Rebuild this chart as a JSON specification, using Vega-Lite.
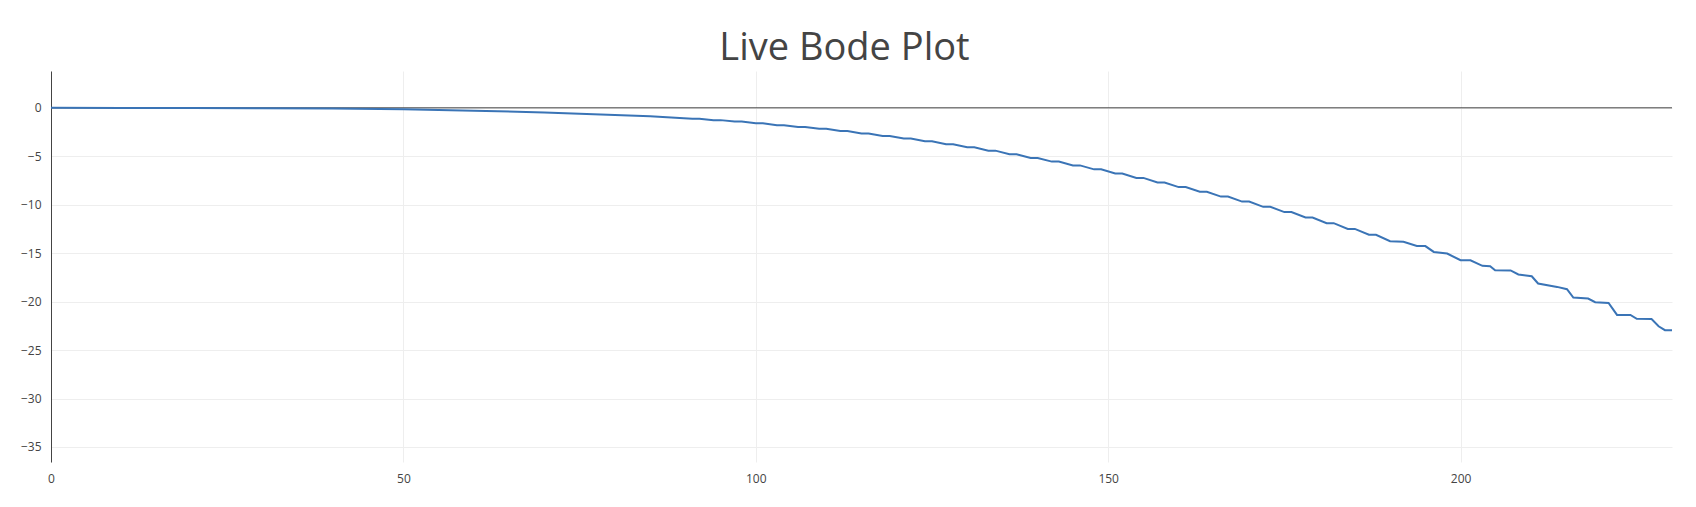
{
  "$schema": "https://vega.github.io/schema/vega-lite/v6.json",
  "width": 1621,
  "height": 391,
  "autosize": {"type": "none"},
  "padding": {"left": 51, "top": 71, "right": 24, "bottom": 45},
  "background": "white",
  "title": {"text": "Live Bode Plot", "anchor": "middle", "frame": "group", "dx": -17, "fontSize": 38, "font": "Open Sans", "fontWeight": "normal", "color": "#444444", "baseline": "alphabetic", "offset": -27},
  "config": {
    "view": {"stroke": null},
    "axis": {"labelFont": "Open Sans", "labelFontSize": 12, "labelColor": "#444444", "gridColor": "#eeeeee", "gridWidth": 1, "ticks": true, "tickSize": 0, "labelFlush": false}
  },
  "layer": [
    {
      "data": {"values": [{"z": 0}]},
      "mark": {"type": "rule", "color": "#444444", "strokeWidth": 1},
      "encoding": {"y": {"field": "z", "type": "quantitative", "scale": {"domain": [-36.55, 3.8], "nice": false}}}
    },
    {
      "data": {"values": [
        {"f": 0, "db": 0}, {"f": 10, "db": -0.01}, {"f": 20, "db": -0.02}, {"f": 30, "db": -0.04}, {"f": 40, "db": -0.08},
        {"f": 50, "db": -0.15}, {"f": 60, "db": -0.29}, {"f": 70, "db": -0.48}, {"f": 75, "db": -0.6}, {"f": 80, "db": -0.74},
        {"f": 85, "db": -0.88}, {"f": 88, "db": -1.0},
        {"f": 91, "db": -1.14}, {"f": 92, "db": -1.14}, {"f": 94, "db": -1.27}, {"f": 95, "db": -1.27},
        {"f": 97, "db": -1.42}, {"f": 98, "db": -1.42}, {"f": 100, "db": -1.59}, {"f": 101, "db": -1.59},
        {"f": 103, "db": -1.8}, {"f": 104, "db": -1.8}, {"f": 106, "db": -1.99}, {"f": 107, "db": -1.99},
        {"f": 109, "db": -2.17}, {"f": 110, "db": -2.17}, {"f": 112, "db": -2.4}, {"f": 113, "db": -2.4},
        {"f": 115, "db": -2.64}, {"f": 116, "db": -2.64}, {"f": 118, "db": -2.9}, {"f": 119, "db": -2.9},
        {"f": 121, "db": -3.17}, {"f": 122, "db": -3.17}, {"f": 124, "db": -3.45}, {"f": 125, "db": -3.45},
        {"f": 127, "db": -3.75}, {"f": 128, "db": -3.75}, {"f": 130, "db": -4.06}, {"f": 131, "db": -4.06},
        {"f": 133, "db": -4.42}, {"f": 134, "db": -4.42}, {"f": 136, "db": -4.79}, {"f": 137, "db": -4.79},
        {"f": 139, "db": -5.17}, {"f": 140, "db": -5.17}, {"f": 142, "db": -5.55}, {"f": 143, "db": -5.55},
        {"f": 145, "db": -5.94}, {"f": 146, "db": -5.94}, {"f": 148, "db": -6.35}, {"f": 149, "db": -6.35},
        {"f": 151, "db": -6.78}, {"f": 152, "db": -6.78}, {"f": 154, "db": -7.23}, {"f": 155, "db": -7.23},
        {"f": 157, "db": -7.7}, {"f": 158, "db": -7.7}, {"f": 160, "db": -8.18}, {"f": 161, "db": -8.18},
        {"f": 163, "db": -8.66}, {"f": 164, "db": -8.66}, {"f": 166, "db": -9.16}, {"f": 167, "db": -9.16},
        {"f": 169, "db": -9.68}, {"f": 170, "db": -9.68}, {"f": 172, "db": -10.22}, {"f": 173, "db": -10.22},
        {"f": 175, "db": -10.76}, {"f": 176, "db": -10.76}, {"f": 178, "db": -11.32}, {"f": 179, "db": -11.32},
        {"f": 181, "db": -11.9}, {"f": 182, "db": -11.9}, {"f": 184, "db": -12.5}, {"f": 185, "db": -12.5},
        {"f": 187, "db": -13.1}, {"f": 188, "db": -13.1},
        {"f": 190.0, "db": -13.76}, {"f": 191.9, "db": -13.83}, {"f": 193.8, "db": -14.25}, {"f": 195.0, "db": -14.27},
        {"f": 196.2, "db": -14.87}, {"f": 198.1, "db": -15.04}, {"f": 200.0, "db": -15.72}, {"f": 201.4, "db": -15.74},
        {"f": 203.1, "db": -16.31}, {"f": 204.2, "db": -16.34}, {"f": 204.9, "db": -16.76}, {"f": 207.1, "db": -16.78},
        {"f": 208.2, "db": -17.2}, {"f": 210.1, "db": -17.38}, {"f": 211.0, "db": -18.13}, {"f": 213.7, "db": -18.48},
        {"f": 215.1, "db": -18.72}, {"f": 216.0, "db": -19.58}, {"f": 218.1, "db": -19.68}, {"f": 219.1, "db": -20.06},
        {"f": 221.0, "db": -20.13}, {"f": 222.2, "db": -21.37}, {"f": 224.1, "db": -21.37}, {"f": 225.0, "db": -21.78},
        {"f": 227.1, "db": -21.8}, {"f": 228.1, "db": -22.54}, {"f": 229.0, "db": -22.95}, {"f": 230, "db": -22.95}
      ]},
      "mark": {"type": "line", "color": "#3a74b6", "strokeWidth": 2, "interpolate": "linear"},
      "encoding": {
        "x": {"field": "f", "type": "quantitative", "scale": {"domain": [0, 230], "nice": false, "zero": false},
              "axis": {"values": [0, 50, 100, 150, 200], "domain": false, "grid": true, "labelPadding": 11, "title": null}},
        "y": {"field": "db", "type": "quantitative", "scale": {"domain": [-36.55, 3.8], "nice": false},
              "axis": {"values": [-35, -30, -25, -20, -15, -10, -5, 0], "domain": true, "domainColor": "#444444", "domainWidth": 1, "grid": true, "labelPadding": 10, "title": null}}
      }
    }
  ]
}
